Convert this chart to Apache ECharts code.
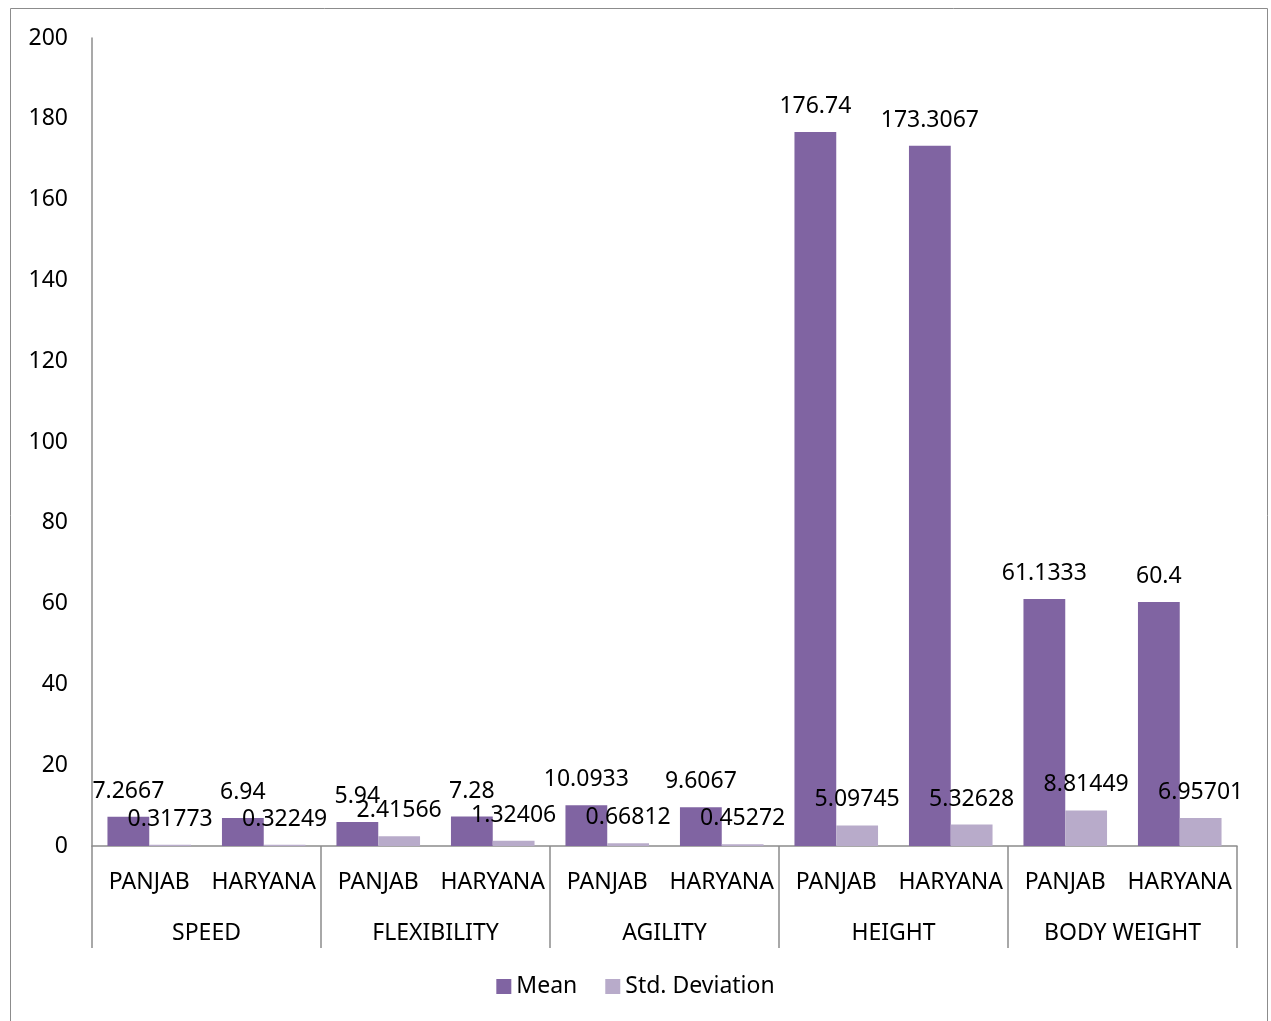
<!DOCTYPE html>
<html>
<head>
<meta charset="utf-8">
<script src="https://cdn.jsdelivr.net/npm/echarts@6/dist/echarts.min.js"></script>
<style>
  html, body { margin: 0; padding: 0; background: #fff; }
  #chart { width: 1271px; height: 1021px; }
</style>
</head>
<body>
<div id="chart"></div>
<script>
const states = ['PANJAB', 'HARYANA', 'PANJAB', 'HARYANA', 'PANJAB', 'HARYANA', 'PANJAB', 'HARYANA', 'PANJAB', 'HARYANA']
const groups = ['SPEED', 'FLEXIBILITY', 'AGILITY', 'HEIGHT', 'BODY WEIGHT']
const meanValues = [7.2667, 6.94, 5.94, 7.28, 10.0933, 9.6067, 176.74, 173.3067, 61.1333, 60.4]
const stdValues = [0.31773, 0.32249, 2.41566, 1.32406, 0.66812, 0.45272, 5.09745, 5.32628, 8.81449, 6.95701]

const font = 'Noto Sans'
const fs = 23
const chart = echarts.init(document.getElementById('chart'))

let option = {
  animation: false,
  textStyle: { fontFamily: font },
  graphic: [
    {
      type: 'rect',
      shape: { x: 10.5, y: 8.5, width: 1257, height: 1030 },
      style: { fill: 'none', stroke: '#8c8c8c', lineWidth: 1 }
    }
  ],
  grid: { left: 92, right: 34, top: 38, bottom: 175 },
  legend: {
    bottom: 18,
    left: 'center',
    itemWidth: 15,
    itemHeight: 15,
    itemGap: 28,
    icon: 'rect',
    textStyle: { fontSize: fs, color: '#000', fontFamily: font }
  },
  xAxis: [
    {
      type: 'category',
      data: states,
      position: 'bottom',
      axisLine: { lineStyle: { color: '#8c8c8c', width: 1.5 } },
      axisTick: { show: false },
      axisLabel: { color: '#000', fontSize: fs, margin: 25, interval: 0, fontFamily: font }
    },
    {
      type: 'category',
      data: groups,
      position: 'bottom',
      axisLine: { show: false },
      axisTick: { show: true, length: 102, lineStyle: { color: '#8c8c8c', width: 1.5 } },
      axisLabel: { color: '#000', fontSize: fs, margin: 76, interval: 0, fontFamily: font }
    }
  ],
  yAxis: {
    type: 'value',
    min: 0,
    max: 200,
    interval: 20,
    splitLine: { show: false },
    axisLine: { show: true, lineStyle: { color: '#8c8c8c', width: 1.5 } },
    axisTick: { show: false },
    axisLabel: { color: '#000', fontSize: fs, margin: 24, padding: [3, 0, 0, 0], fontFamily: font }
  },
  series: [
    {
      name: 'Mean',
      type: 'bar',
      data: meanValues,
      barGap: '0%',
      barCategoryGap: '27%',
      itemStyle: { color: '#8064A2' },
      label: { show: true, position: 'top', distance: 14, fontSize: fs, color: '#000', fontFamily: font }
    },
    {
      name: 'Std. Deviation',
      type: 'bar',
      data: stdValues,
      itemStyle: { color: '#B8ABCA' },
      label: { show: true, position: 'top', distance: 14, fontSize: fs, color: '#000', fontFamily: font }
    }
  ]
}

chart.setOption(option)
</script>
</body>
</html>
